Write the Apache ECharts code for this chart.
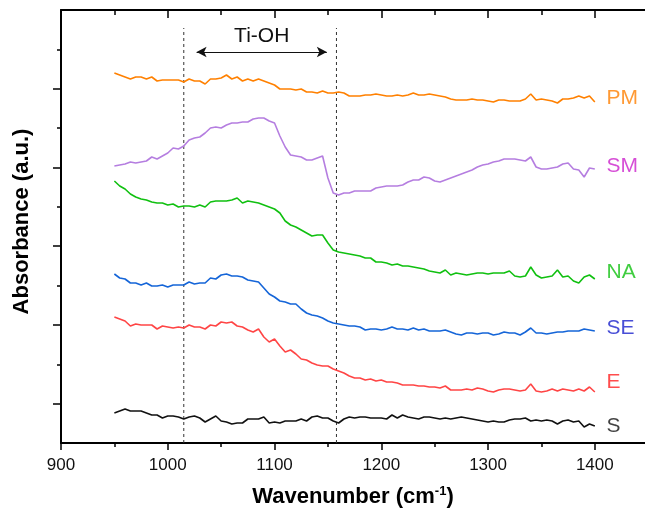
<!DOCTYPE html>
<html>
<head>
<meta charset="utf-8">
<script src="https://cdn.jsdelivr.net/npm/echarts@6/dist/echarts.min.js"></script>
<style>
  html, body { margin: 0; padding: 0; background: #fff; }
  #chart { width: 645px; height: 513px; }
</style>
</head>
<body>
<div id="chart"></div>
<script>
// wavenumber grid, 950..1400 step 5
const wavenumber = []
for (let w = 950; w <= 1400; w += 5) wavenumber.push(w)

// offset absorbance traces (a.u., stacked)
const pm = [370,368,366,364,366,366,364,366,362,363,363,363,363,361,364,362,362,359,364,364,365,368,364,366,362,364,362,364,362,360,358,354,354,354,353,354,351,351,350,352,350,350,351,350,347,347,
  347,348,348,349,348,347,347,348,347,348,350,348,348,349,348,347,346,344,343,343,343,344,343,343,342,341,343,343,342,342,342,344,349,343,344,343,342,340,344,344,345,347,345,347,341]
const sm = [277,278,279,281,280,281,282,286,284,287,290,295,294,297,303,305,306,310,315,316,315,318,320,320,321,321,324,325,325,322,320,307,296,288,287,286,283,283,285,287,265,250,248,250,250,252,
  252,252,252,255,256,257,257,257,258,261,263,263,266,265,262,261,263,265,267,269,271,273,276,278,279,281,282,284,284,284,283,282,286,276,274,274,275,276,279,280,274,273,266,275,274]
const na = [262,257,254,249,246,244,243,241,240,240,238,239,236,237,237,236,238,236,241,242,242,242,243,245,240,242,241,240,238,236,234,230,222,218,216,213,210,207,208,208,200,193,191,190,189,188,
  187,185,185,181,181,180,178,179,177,177,176,175,174,172,171,170,173,168,170,169,168,169,170,170,169,170,170,170,172,167,166,167,176,168,165,166,167,173,166,167,162,160,166,168,164]
const se = [169,165,164,160,160,158,160,157,157,158,156,158,158,158,161,159,160,160,165,164,168,169,167,167,166,163,162,161,155,149,146,142,141,139,139,134,130,128,127,125,122,120,119,118,117,117,
  116,113,114,114,113,114,116,114,114,113,115,113,114,112,112,112,113,111,109,108,110,110,109,110,110,108,109,111,110,110,108,111,115,110,110,109,110,111,111,112,112,112,114,113,112]
const e = [126,124,122,117,119,118,118,118,114,117,116,115,116,115,118,116,116,114,118,117,121,120,121,117,116,113,111,114,106,101,104,97,91,93,89,84,83,80,78,77,77,74,72,70,67,65,
  65,63,64,62,63,61,61,60,58,58,58,57,57,56,56,55,57,53,53,53,54,53,55,54,52,51,53,54,54,53,52,53,59,52,51,52,54,52,54,53,52,54,52,56,51]
const s = [30,32,34,32,32,32,30,28,28,25,27,27,26,24,26,27,25,21,24,27,22,21,19,20,20,24,24,24,26,20,21,20,22,22,22,24,22,26,27,25,25,22,20,24,26,25,
  26,26,25,25,25,24,28,25,28,26,25,24,26,26,25,24,25,24,25,26,25,24,23,22,21,22,21,21,23,24,24,25,22,23,22,23,22,19,22,23,21,22,16,19,17]

const seriesNames = ['PM', 'SM', 'NA', 'SE', 'E', 'S']
const seriesData = [pm, sm, na, se, e, s]
const lineColors = ['#ff8000', '#b57ee0', '#10c010', '#1565d8', '#ff4545', '#111111']
const labelColors = ['#ff8000', '#cc22cc', '#10c010', '#1a22cc', '#ff2020', '#111111']
const labelY = [345, 277, 171, 115, 61, 17]
const labelX = 1411

// Ti-OH band
const dashX = [1015, 1158]
const dashTop = 415
const arrowFrom = 1027
const arrowTo = 1149
const arrowY = 391

const xMajor = [900, 1000, 1100, 1200, 1300, 1400]
const xMinor = [950, 1050, 1150, 1250, 1350]
const yMajor = [39.4, 118.1, 196.8, 275.5, 354.2]
const yMinor = [78.7, 157.4, 236.2, 314.9, 393.6]

const font = '"Liberation Sans", Arial, sans-serif'
const chart = echarts.init(document.getElementById('chart'))

const baseX = { type: 'value', min: 900, max: 1447, splitLine: { show: false } }
const baseY = { type: 'value', min: 0, max: 433, splitLine: { show: false }, axisLabel: { show: false } }
const axLine = { show: true, lineStyle: { color: '#000', width: 2 } }

const series = seriesData.map((arr, i) => ({
  name: seriesNames[i],
  type: 'line',
  data: arr.map((v, j) => [wavenumber[j], v]),
  showSymbol: false,
  lineStyle: { color: lineColors[i], width: 1.6 },
  z: 3
}))

dashX.forEach(x => {
  series.push({
    type: 'line',
    data: [[x, 0], [x, dashTop]],
    showSymbol: false,
    lineStyle: { color: '#333', width: 1, type: [3, 3] },
    z: 2
  })
})

series.push({
  type: 'line',
  data: [],
  markLine: {
    silent: true,
    symbol: ['arrow', 'arrow'],
    symbolSize: [8, 10],
    lineStyle: { color: '#111', width: 1.2, type: 'solid' },
    label: {
      show: true, position: 'middle', formatter: 'Ti-OH', distance: 5,
      fontFamily: font, fontSize: 21, color: '#111'
    },
    data: [[{ coord: [arrowFrom, arrowY] }, { coord: [arrowTo, arrowY] }]]
  }
})

series.push({
  type: 'scatter',
  symbolSize: 0,
  data: seriesNames.map((n, i) => ({
    value: [labelX, labelY[i]],
    label: { formatter: n, color: labelColors[i] }
  })),
  label: {
    show: true, position: 'right', distance: 0,
    fontFamily: font, fontSize: 21
  },
  z: 4
})

chart.setOption({
  animation: false,
  grid: { left: 61, top: 10, right: 0, bottom: 70 },
  xAxis: [
    Object.assign({}, baseX, {
      position: 'bottom',
      axisLine: axLine,
      axisTick: { show: true, inside: false, length: 7, customValues: xMajor, lineStyle: { color: '#000', width: 1.5 } },
      axisLabel: { customValues: xMajor, formatter: v => String(v), margin: 14, fontFamily: font, fontSize: 17, color: '#111' },
      name: '{t|Wavenumber (cm}{s|-1}{t|)}',
      nameLocation: 'middle',
      nameGap: 42,
      nameTextStyle: {
        rich: {
          t: { fontFamily: font, fontSize: 22, fontWeight: 'bold', color: '#000', lineHeight: 24 },
          s: { fontFamily: font, fontSize: 13, fontWeight: 'bold', color: '#000', verticalAlign: 'top', lineHeight: 24, padding: [0, 0, 10, 0] }
        }
      }
    }),
    Object.assign({}, baseX, {
      position: 'bottom',
      axisLine: { show: false },
      axisTick: { show: true, inside: false, length: 4, customValues: xMinor, lineStyle: { color: '#000', width: 1.5 } },
      axisLabel: { show: false }
    }),
    Object.assign({}, baseX, {
      position: 'top',
      axisLine: axLine,
      axisTick: { show: true, inside: true, length: 8, customValues: xMajor.slice(1), lineStyle: { color: '#000', width: 1.5 } },
      axisLabel: { show: false }
    }),
    Object.assign({}, baseX, {
      position: 'top',
      axisLine: { show: false },
      axisTick: { show: true, inside: true, length: 5, customValues: xMinor, lineStyle: { color: '#000', width: 1.5 } },
      axisLabel: { show: false }
    })
  ],
  yAxis: [
    Object.assign({}, baseY, {
      position: 'left',
      axisLine: axLine,
      axisTick: { show: true, inside: false, length: 8, customValues: yMajor, lineStyle: { color: '#000', width: 1.5 } },
      name: 'Absorbance (a.u.)',
      nameLocation: 'middle',
      nameGap: 28,
      nameTextStyle: { fontFamily: font, fontSize: 22, fontWeight: 'bold', color: '#000', padding: [0, 0, 0, 10] }
    }),
    Object.assign({}, baseY, {
      position: 'left',
      axisLine: { show: false },
      axisTick: { show: true, inside: false, length: 4, customValues: yMinor, lineStyle: { color: '#000', width: 1.5 } }
    })
  ],
  series: series
})
</script>
</body>
</html>
